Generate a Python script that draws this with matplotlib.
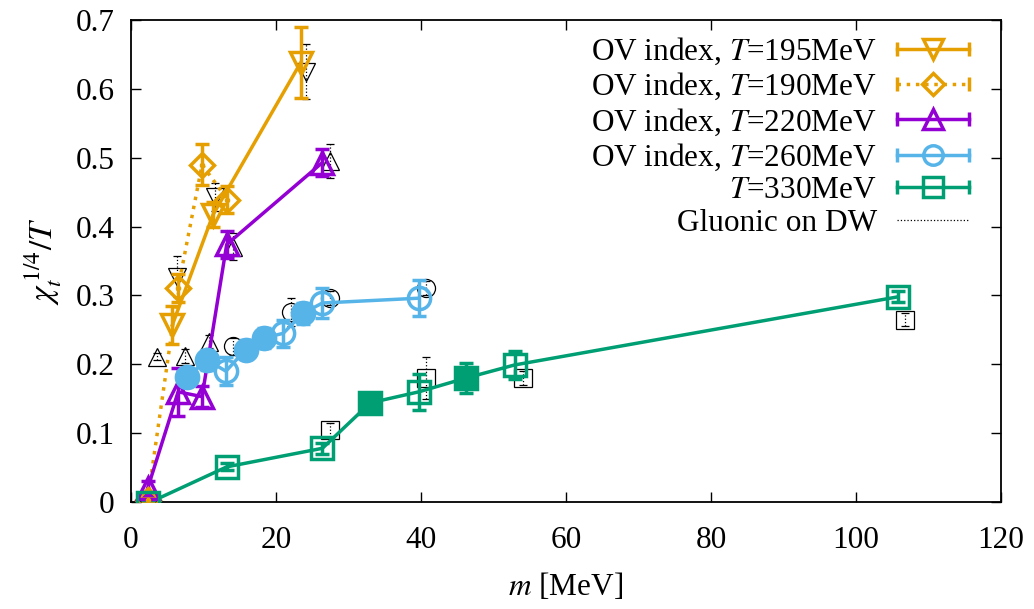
import numpy as np
import matplotlib
matplotlib.use("Agg")
import matplotlib.pyplot as plt
from matplotlib.lines import Line2D
from matplotlib.legend_handler import HandlerLine2D, HandlerTuple

plt.rcParams['font.family'] = ['Liberation Serif', 'DejaVu Serif']
plt.rcParams['mathtext.fontset'] = 'stix'

# --- DATA ---
# OV index, T=195MeV
m195 = [5.7, 11.3, 23.4]
c195 = [0.257, 0.417, 0.638]
e195 = [0.027, 0.018, 0.052]

# OV index, T=190MeV
m190 = [2.3, 6.5, 9.8, 13.3]
c190 = [0.003, 0.311, 0.490, 0.439]
e190 = [0.005, 0.020, 0.030, 0.020]

# OV index, T=220MeV
m220 = [2.3, 6.5, 9.8, 13.2, 26.4]
c220 = [0.020, 0.160, 0.153, 0.374, 0.493]
e220 = [0.010, 0.035, 0.015, 0.020, 0.019]

# OV index, T=260MeV (open / filled)
m260 = [13.1, 21.0, 26.4, 39.7]
c260 = [0.190, 0.245, 0.289, 0.296]
e260 = [0.020, 0.020, 0.022, 0.026]
m260f = [7.75, 10.5, 15.8, 18.3, 23.7]
c260f = [0.182, 0.206, 0.221, 0.238, 0.274]
e260f = [0.012, 0.015, 0.014, 0.015, 0.015]

# T=330MeV (open / filled)
m330 = [2.3, 13.2, 26.4, 39.7, 52.9, 105.8]
c330 = [-0.002, 0.051, 0.078, 0.160, 0.199, 0.298]
e330 = [0.005, 0.005, 0.008, 0.026, 0.020, 0.008]
m330f = [33.0, 46.2]
c330f = [0.144, 0.180]
e330f = [0.015, 0.022]

# Gluonic on DW
mg_dt = [6.3, 11.6, 24.1]
cg_dt = [0.327, 0.443, 0.625]
eg_dt = [0.030, 0.020, 0.040]
mg_ut = [3.6, 7.5, 10.8, 14.1, 27.5]
cg_ut = [0.211, 0.212, 0.233, 0.371, 0.495]
eg_ut = [0.005, 0.010, 0.010, 0.020, 0.025]
mg_c = [14.1, 22.1, 27.4, 40.7]
cg_c = [0.226, 0.276, 0.296, 0.311]
eg_c = [0.012, 0.020, 0.010, 0.010]
mg_s = [27.4, 40.7, 54.0, 106.8]
cg_s = [0.105, 0.180, 0.180, 0.265]
eg_s = [0.010, 0.030, 0.010, 0.010]

ORANGE = '#E69F00'
PURPLE = '#9400D3'
BLUE = '#56B4E9'
GREEN = '#009E73'

fig = plt.figure(figsize=(10.34, 6.09), dpi=100)
ax = fig.add_axes([131/1034, 1-502/609, 870/1034, 482/609])

LW = 2.5
MS = 16
CAP = 5
FS = 22.5

# gluonic points, thin black, behind
for m, c, e, mk in [(mg_dt, cg_dt, eg_dt, 'v'), (mg_ut, cg_ut, eg_ut, '^'),
                    (mg_c, cg_c, eg_c, 'o'), (mg_s, cg_s, eg_s, 's')]:
    eb = ax.errorbar(m, c, yerr=e, fmt=mk, color='black', mfc='none', ms=13,
                     mew=0.9, elinewidth=0.9, capsize=3, capthick=0.9, zorder=2)
    eb[2][0].set_linestyle(':')

def series(m, c, e, mk, col, ls='-', mfc='none', line=True, ms=MS, z=3):
    ax.errorbar(m, c, yerr=e, fmt=mk, color=col, mfc=mfc, ms=ms, mew=LW,
                elinewidth=LW, capsize=CAP, capthick=LW, zorder=z)
    if line:
        ax.plot(m, c, color=col, lw=LW, ls=ls, zorder=z)

series(m195, c195, e195, 'v', ORANGE)
series(m190, c190, e190, 'D', ORANGE, ls=':', ms=12)
ax.plot(m190, c190, 'o', color=ORANGE, ms=3, zorder=4)
series(m220, c220, e220, '^', PURPLE)
# blue line joins open and filled points
o = np.argsort(m260 + m260f)
ax.plot(np.array(m260 + m260f)[o], np.array(c260 + c260f)[o], color=BLUE, lw=LW, zorder=3)
series(m260, c260, e260, 'o', BLUE, line=False)
series(m260f, c260f, e260f, 'o', BLUE, mfc=BLUE, line=False)
o = np.argsort(m330 + m330f)
ax.plot(np.array(m330 + m330f)[o], np.array(c330 + c330f)[o], color=GREEN, lw=LW, zorder=3)
series(m330, c330, e330, 's', GREEN, line=False)
series(m330f, c330f, e330f, 's', GREEN, mfc=GREEN, line=False)

ax.set_xlim(0, 120)
ax.set_ylim(0, 0.7)
ax.set_xticks(np.arange(0, 121, 20))
ax.set_yticks(np.arange(0, 0.71, 0.1))
ax.set_yticklabels(['0', '0.1', '0.2', '0.3', '0.4', '0.5', '0.6', '0.7'])
ax.tick_params(direction='in', top=True, right=True, length=7, width=1,
               labelsize=FS)
ax.tick_params(axis='x', pad=17)
ax.tick_params(axis='y', pad=12)
for s in ax.spines.values():
    s.set_linewidth(1.3)
ax.set_xlabel(r'$m$ [MeV]', fontsize=FS, labelpad=12)
ax.set_ylabel(r'$\chi_t^{\,1/4}/T$', fontsize=24, labelpad=8)

# legend with gnuplot style samples
def handle(col, mk, ls='-', ms=14):
    caps = Line2D([], [], color=col, lw=LW, ls=ls, marker='|', ms=10, mew=LW)
    mark = Line2D([], [], color=col, lw=0, marker=mk, mfc='none', ms=ms, mew=LW)
    return (caps, mark)

handles = [handle(ORANGE, 'v'), handle(ORANGE, 'D', ':', 11), handle(PURPLE, '^'),
           handle(BLUE, 'o'), handle(GREEN, 's'),
           Line2D([], [], color='black', lw=0.9, ls=':')]
labels = ['OV index, $T$=195MeV', 'OV index, $T$=190MeV', 'OV index, $T$=220MeV',
          'OV index, $T$=260MeV', '$T$=330MeV', 'Gluonic on DW']
hmap = {tuple: HandlerTuple(ndivide=1, pad=0)}
for h in handles[:-1]:
    hmap[h[0]] = HandlerLine2D(numpoints=2, marker_pad=0)
    hmap[h[1]] = HandlerLine2D(numpoints=1)
ax.legend(handles, labels, handler_map=hmap, loc='upper right', frameon=False,
          bbox_to_anchor=((969 - 131) / 870, (502 - 36) / 482),
          markerfirst=False, fontsize=FS, handlelength=2.3, labelspacing=0.12,
          handletextpad=0.65, borderaxespad=0, borderpad=0)

plt.savefig('out.png', dpi=100)
